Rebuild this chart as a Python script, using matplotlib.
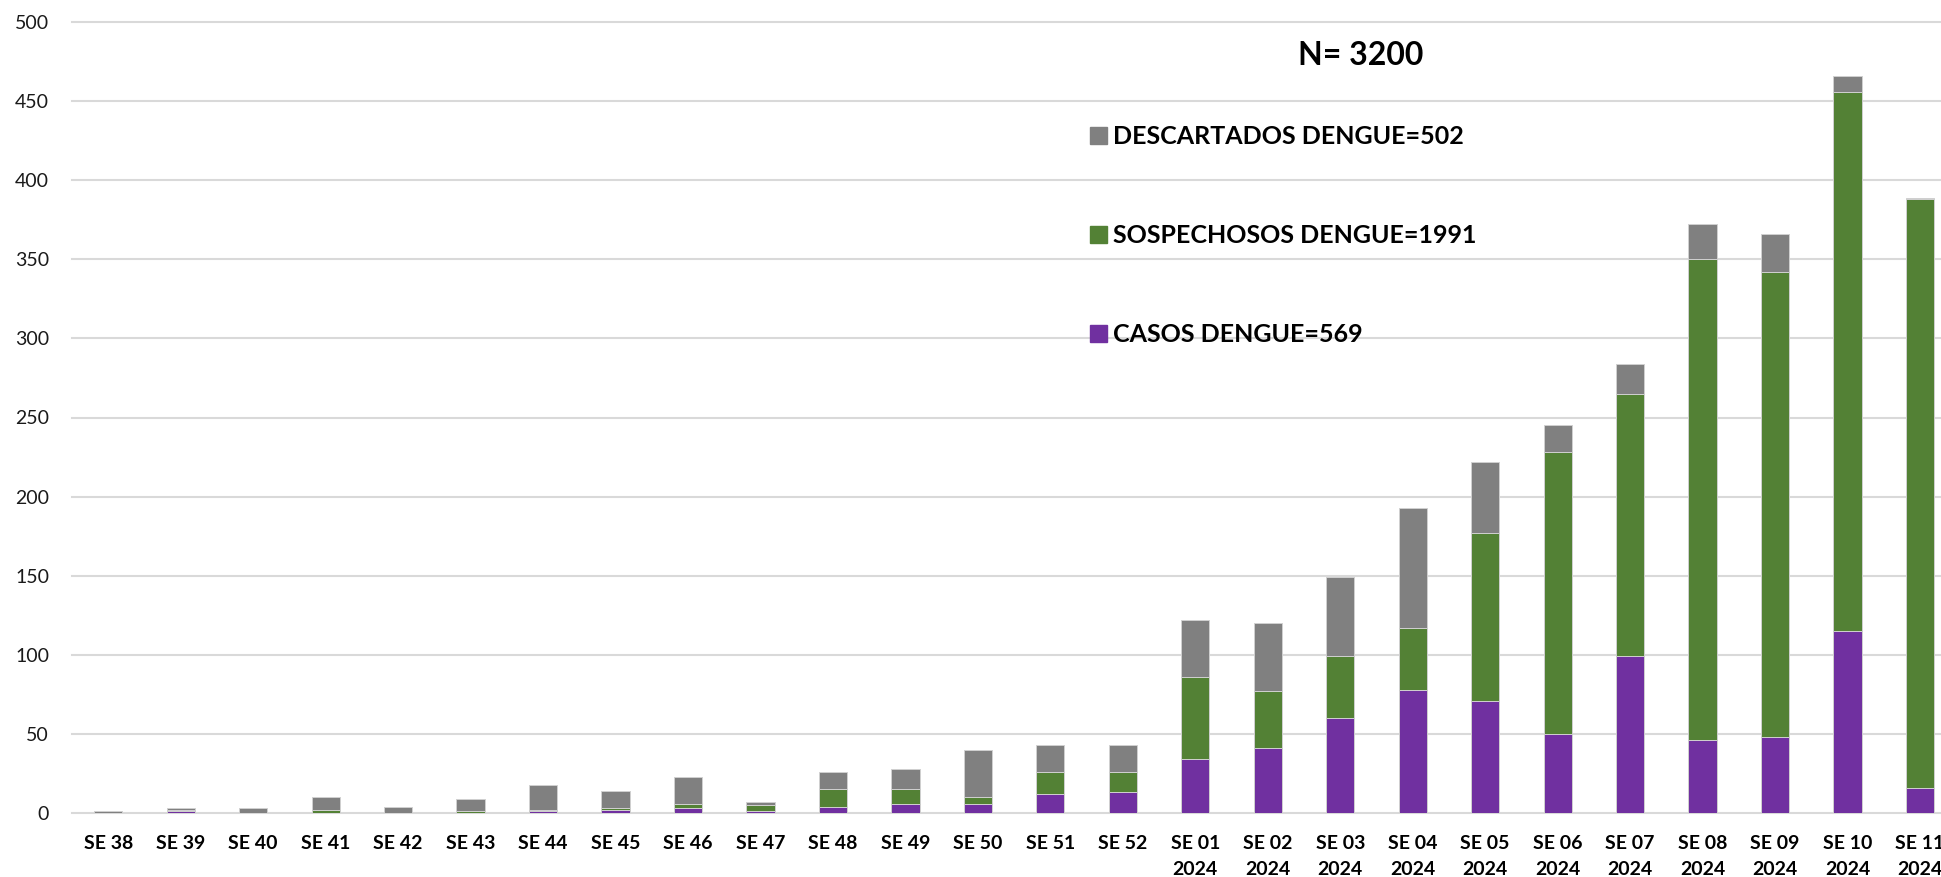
import numpy as np
import matplotlib
matplotlib.use("Agg")
import matplotlib.pyplot as plt
from matplotlib.patches import Patch

plt.rcParams['font.family'] = ['Lato', 'Liberation Sans', 'DejaVu Sans']

semanas = ["SE 38", "SE 39", "SE 40", "SE 41", "SE 42", "SE 43", "SE 44", "SE 45",
           "SE 46", "SE 47", "SE 48", "SE 49", "SE 50", "SE 51", "SE 52",
           "SE 01\n2024", "SE 02\n2024", "SE 03\n2024", "SE 04\n2024", "SE 05\n2024",
           "SE 06\n2024", "SE 07\n2024", "SE 08\n2024", "SE 09\n2024", "SE 10\n2024",
           "SE 11\n2024"]
casos = [0, 1, 0, 0, 0, 0, 1, 2, 3, 1, 4, 6, 6, 12, 13,
         34, 41, 60, 78, 71, 50, 99, 46, 48, 115, 16]
sospechosos = [0, 1, 0, 2, 0, 1, 1, 1, 3, 4, 11, 9, 4, 14, 13,
               52, 36, 39, 39, 106, 178, 166, 304, 294, 341, 372]
descartados = [1, 1, 3, 8, 4, 8, 16, 11, 17, 2, 11, 13, 30, 17, 17,
               36, 43, 50, 76, 45, 17, 19, 22, 24, 10, 1]

labels = ["DESCARTADOS DENGUE=502", "SOSPECHOSOS DENGUE=1991", "CASOS DENGUE=569"]
c_gris, c_verde, c_morado = "#808080", "#538135", "#7030A0"

W, H = 1941, 877
fig = plt.figure(figsize=(W / 100, H / 100), dpi=100)
ax = fig.add_axes([72 / W, 1 - 813 / H, 1 - 72 / W, (813 - 22) / H])

x = np.arange(len(semanas))
casos = np.array(casos)
sospechosos = np.array(sospechosos)
descartados = np.array(descartados)
ancho = 0.39
borde = dict(edgecolor="#d0d0d0", linewidth=0.7)
ax.bar(x, casos, ancho, color=c_morado, **borde)
ax.bar(x, sospechosos, ancho, bottom=casos, color=c_verde, **borde)
ax.bar(x, descartados, ancho, bottom=casos + sospechosos, color=c_gris, **borde)

ax.set_xlim(-0.5, 25.29)
ax.set_ylim(0, 500)
ax.set_yticks(range(0, 501, 50))
ax.set_xticks(x)
ax.set_xticklabels(semanas, fontsize=14, fontweight="bold", linespacing=1.6)
for t in ax.get_yticklabels():
    t.set_fontsize(14)
    t.set_color("#1a1a1a")
ax.tick_params(axis="both", length=0)
ax.tick_params(axis="y", pad=16.5)
ax.tick_params(axis="x", pad=16)
for s in ax.spines.values():
    s.set_visible(False)
ax.yaxis.grid(True, color="#d9d9d9", linewidth=1.5)
for gl in ax.get_ygridlines():
    gl.set_clip_on(False)
ax.set_axisbelow(True)

fig.text(1298 / W, 1 - 65 / H, "N= 3200", fontsize=23, fontweight="bold", ha="left", va="baseline")

handles = [Patch(color=c_gris), Patch(color=c_verde), Patch(color=c_morado)]
leg = fig.legend(handles, labels, loc="upper left", bbox_to_anchor=(1090 / W, 1 - 125 / H),
                 frameon=False, borderpad=0, borderaxespad=0, handlelength=0.68,
                 handleheight=0.68, handletextpad=0.24, labelspacing=3.04,
                 prop={"size": 18, "weight": "bold"})

fig.savefig("out.png", dpi=100)
